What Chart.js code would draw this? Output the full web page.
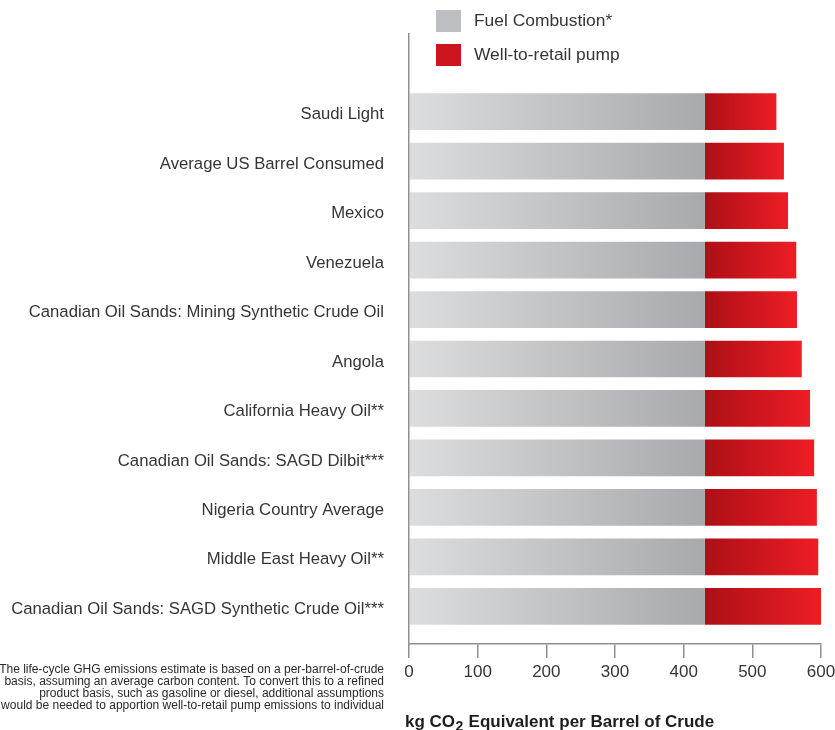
<!DOCTYPE html>
<html>
<head>
<meta charset="utf-8">
<script src="https://cdn.jsdelivr.net/npm/chart.js@4.4.1/dist/chart.umd.min.js"></script>
<style>
  html, body { margin: 0; padding: 0; background: #ffffff; }
  #wrap { position: relative; width: 835px; height: 730px; }
</style>
</head>
<body>
<div id="wrap"><canvas id="c" width="835" height="730"></canvas></div>
<script>
// ---- data ----
const categories = [
  'Saudi Light',
  'Average US Barrel Consumed',
  'Mexico',
  'Venezuela',
  'Canadian Oil Sands: Mining Synthetic Crude Oil',
  'Angola',
  'California Heavy Oil**',
  'Canadian Oil Sands: SAGD Dilbit***',
  'Nigeria Country Average',
  'Middle East Heavy Oil**',
  'Canadian Oil Sands: SAGD Synthetic Crude Oil***'
];
const fuelCombustion = [431, 431, 431, 431, 431, 431, 431, 431, 431, 431, 431];
const wellToRetailPump = [104, 115, 121, 133, 134, 141, 153, 159, 163, 165, 169];
const seriesLabels = ['Fuel Combustion*', 'Well-to-retail pump'];
const xTicks = [0, 100, 200, 300, 400, 500, 600];
const axisTitleParts = ['kg CO', '2', ' Equivalent per Barrel of Crude'];
const footnoteLines = [
  '*The life-cycle GHG emissions estimate is based on a per-barrel-of-crude',
  'basis, assuming an average carbon content. To convert this to a refined',
  'product basis, such as gasoline or diesel, additional assumptions',
  'would be needed to apportion well-to-retail pump emissions to individual'
];

// ---- styles ----
const FONT = "'Liberation Sans', Arial, sans-serif";
const TEXT = '#353535';
const AXIS = '#8f8f8f';
const legendColors = ['#bdbec1', '#cc151e'];

function grayFill(c) {
  const chart = c.chart;
  if (!chart.chartArea || c.dataIndex === undefined) return legendColors[0];
  const xs = chart.scales.x;
  const x0 = xs.getPixelForValue(0);
  const x1 = xs.getPixelForValue(fuelCombustion[c.dataIndex]);
  const g = chart.ctx.createLinearGradient(x0, 0, x1, 0);
  g.addColorStop(0, '#dcddde');
  g.addColorStop(1, '#a8a9ac');
  return g;
}
function redFill(c) {
  const chart = c.chart;
  if (!chart.chartArea || c.dataIndex === undefined) return legendColors[1];
  const xs = chart.scales.x;
  const s = fuelCombustion[c.dataIndex];
  const x0 = xs.getPixelForValue(s);
  const x1 = xs.getPixelForValue(s + wellToRetailPump[c.dataIndex]);
  const g = chart.ctx.createLinearGradient(x0, 0, x1, 0);
  g.addColorStop(0, '#ad0f17');
  g.addColorStop(1, '#ee1d25');
  return g;
}

const customLegend = {
  id: 'customLegend',
  afterDraw(chart) {
    const ctx = chart.ctx;
    ctx.save();
    ctx.font = '17.4px ' + FONT;
    ctx.textBaseline = 'middle';
    ctx.textAlign = 'left';
    chart.data.datasets.forEach((ds, i) => {
      const y = 10 + i * 34;
      ctx.fillStyle = legendColors[i];
      ctx.fillRect(436, y, 25, 22);
      ctx.fillStyle = TEXT;
      ctx.fillText(ds.label, 474, y + 11.5);
    });
    ctx.restore();
  }
};

const extraText = {
  id: 'extraText',
  afterDraw(chart) {
    const ctx = chart.ctx;
    ctx.save();
    // axis title
    ctx.fillStyle = '#1e1e1e';
    ctx.textBaseline = 'alphabetic';
    ctx.textAlign = 'left';
    let x = 405;
    const base = 727;
    ctx.font = 'bold 17px ' + FONT;
    ctx.fillText(axisTitleParts[0], x, base);
    x += ctx.measureText(axisTitleParts[0]).width;
    ctx.font = 'bold 14px ' + FONT;
    ctx.fillText(axisTitleParts[1], x + 0.5, base + 3.5);
    x += ctx.measureText(axisTitleParts[1]).width + 1;
    ctx.font = 'bold 17px ' + FONT;
    ctx.fillText(axisTitleParts[2], x, base);
    // footnote
    ctx.fillStyle = '#2a2a2a';
    ctx.font = '12px ' + FONT;
    ctx.textAlign = 'right';
    ctx.textBaseline = 'middle';
    footnoteLines.forEach((ln, i) => ctx.fillText(ln, 384, 670 + i * 12));
    ctx.restore();
  }
};

new Chart(document.getElementById('c'), {
  type: 'bar',
  data: {
    datasets: [
      {
        label: seriesLabels[0],
        data: fuelCombustion.map((v, i) => ({ x: v, y: i })),
        backgroundColor: grayFill,
        borderWidth: 0,
        barPercentage: 0.742,
        categoryPercentage: 1
      },
      {
        label: seriesLabels[1],
        data: wellToRetailPump.map((v, i) => ({ x: v, y: i })),
        backgroundColor: redFill,
        borderWidth: 0,
        barPercentage: 0.742,
        categoryPercentage: 1
      }
    ]
  },
  options: {
    indexAxis: 'y',
    responsive: false,
    animation: false,
    devicePixelRatio: 1,
    layout: { padding: { top: 34, right: 14, bottom: 0, left: 0 } },
    plugins: { legend: { display: false }, tooltip: { enabled: false } },
    scales: {
      x: {
        type: 'linear',
        stacked: true,
        min: 0, max: 600,
        afterBuildTicks(s) { s.ticks = xTicks.map(v => ({ value: v })); },
        afterFit(s) { s.height = 86; s.paddingRight = 0; s.paddingLeft = 0; },
        grid: { display: true, drawOnChartArea: false, drawTicks: true, tickLength: 14, color: AXIS, lineWidth: 1.5 },
        border: { display: true, color: AXIS, width: 1.5 },
        ticks: { color: TEXT, font: { size: 17, family: FONT }, padding: 4, maxRotation: 0 }
      },
      y: {
        type: 'linear',
        stacked: true,
        reverse: true,
        offset: false,
        grace: 0,
        bounds: 'data',
        min: -1.571, max: 10.762,
        afterBuildTicks(s) { s.ticks = categories.map((_, i) => ({ value: i })); },
        afterFit(s) { s.width = 409; s.paddingTop = 0; s.paddingBottom = 0; },
        grid: { display: false, drawTicks: false },
        border: { display: true, color: AXIS, width: 1.5, z: 1 },
        ticks: {
          color: TEXT,
          font: { size: 16.7, family: FONT },
          padding: 25,
          labelOffset: 3,
          autoSkip: false,
          callback: (v) => categories[v] !== undefined ? categories[v] : ''
        }
      }
    }
  },
  plugins: [customLegend, extraText]
});
</script>
</body>
</html>
